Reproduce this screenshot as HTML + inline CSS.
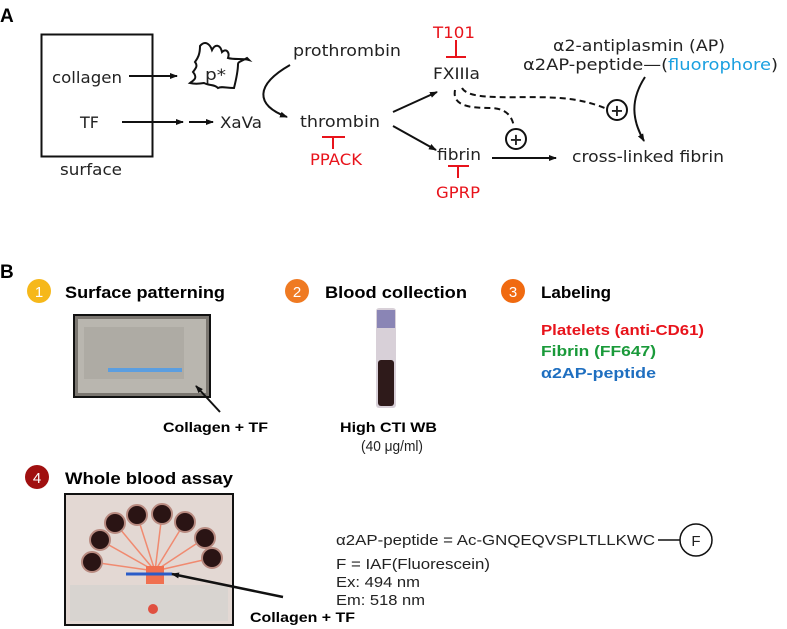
<!DOCTYPE html>
<html><head><meta charset="utf-8"><style>
html,body{margin:0;padding:0;background:#fff;}
svg{display:block;}
.c{font-family:"DejaVu Sans","Liberation Sans",sans-serif;font-size:16px;fill:#222;}
.r{fill:#e8131b;}
.h{font-family:"Liberation Sans",sans-serif;font-weight:bold;}
.a{font-family:"Liberation Sans",sans-serif;font-size:15px;fill:#222;}
</style></head><body>
<svg width="787" height="629" viewBox="0 0 787 629" xmlns="http://www.w3.org/2000/svg">
<defs>
<marker id="ar" markerWidth="8" markerHeight="8" refX="7" refY="4" orient="auto" markerUnits="userSpaceOnUse"><path d="M0,1 L8,4 L0,7 z" fill="#111"/></marker>
</defs>
<!-- A -->
<text x="0" y="22" class="h" font-size="19" fill="#000">A</text>
<rect x="41.5" y="34.5" width="111" height="122" fill="none" stroke="#111" stroke-width="2"/>
<text x="52" y="83" class="c" textLength="70" lengthAdjust="spacingAndGlyphs">collagen</text>
<text x="80" y="128" class="c" textLength="19" lengthAdjust="spacingAndGlyphs">TF</text>
<text x="60" y="175" class="c" textLength="62" lengthAdjust="spacingAndGlyphs">surface</text>
<line x1="129" y1="76" x2="177" y2="76" stroke="#111" stroke-width="2" marker-end="url(#ar)"/>
<line x1="122" y1="122" x2="183" y2="122" stroke="#111" stroke-width="2" marker-end="url(#ar)"/>
<line x1="189" y1="122" x2="213" y2="122" stroke="#111" stroke-width="2" marker-end="url(#ar)"/>
<text x="220" y="128" class="c" textLength="42" lengthAdjust="spacingAndGlyphs">XaVa</text>
<path d="M200,46 C205,40 210,44 212,50 C215,44 220,44 222,52 C226,48 230,52 228,58 C235,60 242,58 249,60 L247,58 C240,62 238,62 238,64 C238,72 236,80 234,88 C226,88 222,86 218,88 C214,84 210,86 204,83 C198,84 194,84 190,83 C194,80 198,78 193,72 C196,68 198,66 195,62 C198,58 200,54 200,46 z" fill="none" stroke="#111" stroke-width="2"/>
<text x="205" y="80" class="c" textLength="21" lengthAdjust="spacingAndGlyphs">p*</text>
<text x="293" y="56" class="c" textLength="108" lengthAdjust="spacingAndGlyphs">prothrombin</text>
<path d="M290,65 C255,85 255,105 287,117" fill="none" stroke="#111" stroke-width="2" marker-end="url(#ar)"/>
<text x="300" y="127" class="c" textLength="80" lengthAdjust="spacingAndGlyphs">thrombin</text>
<g stroke="#e8131b" stroke-width="2"><line x1="322" y1="137" x2="345" y2="137"/><line x1="333" y1="137" x2="333" y2="149"/></g>
<text x="310" y="165" class="c r" textLength="52" lengthAdjust="spacingAndGlyphs">PPACK</text>
<line x1="393" y1="112" x2="437" y2="92" stroke="#111" stroke-width="2" marker-end="url(#ar)"/>
<line x1="393" y1="126" x2="436" y2="150" stroke="#111" stroke-width="2" marker-end="url(#ar)"/>
<text x="433" y="38" class="c r" textLength="42" lengthAdjust="spacingAndGlyphs">T101</text>
<g stroke="#e8131b" stroke-width="2"><line x1="456" y1="40" x2="456" y2="57"/><line x1="446" y1="57" x2="466" y2="57"/></g>
<text x="433" y="79" class="c" textLength="47" lengthAdjust="spacingAndGlyphs">FXIIIa</text>
<text x="437" y="160" class="c" textLength="44" lengthAdjust="spacingAndGlyphs">fibrin</text>
<g stroke="#e8131b" stroke-width="2"><line x1="448" y1="166" x2="469" y2="166"/><line x1="458" y1="166" x2="458" y2="178"/></g>
<text x="436" y="198" class="c r" textLength="44" lengthAdjust="spacingAndGlyphs">GPRP</text>
<line x1="492" y1="158" x2="556" y2="158" stroke="#111" stroke-width="2" marker-end="url(#ar)"/>
<text x="572" y="162" class="c" textLength="152" lengthAdjust="spacingAndGlyphs">cross-linked fibrin</text>
<text x="553" y="51" class="c" textLength="172" lengthAdjust="spacingAndGlyphs">α2-antiplasmin (AP)</text>
<text x="523" y="70" class="c" textLength="255" lengthAdjust="spacingAndGlyphs">α2AP-peptide—(<tspan fill="#1aa0e0">fluorophore</tspan>)</text>
<path d="M645,77 C630,100 632,120 644,141" fill="none" stroke="#111" stroke-width="2" marker-end="url(#ar)"/>
<path d="M462,88 C470,102 520,95 560,98 C585,100 600,106 607,109" fill="none" stroke="#111" stroke-width="2" stroke-dasharray="6,4"/>
<circle cx="617" cy="110" r="10" fill="#fff" stroke="#111" stroke-width="2"/>
<text x="617" y="116" class="c" text-anchor="middle" font-size="17" font-weight="bold">+</text>
<path d="M455,90 C452,106 470,108 490,108 C505,108 512,115 514,127" fill="none" stroke="#111" stroke-width="2" stroke-dasharray="6,4"/>
<circle cx="516" cy="139" r="10" fill="#fff" stroke="#111" stroke-width="2"/>
<text x="516" y="145" class="c" text-anchor="middle" font-size="17" font-weight="bold">+</text>
<!-- B -->
<text x="0" y="278" class="h" font-size="19" fill="#000">B</text>
<circle cx="39" cy="291" r="12" fill="#f6b81a"/><text x="39" y="297" class="a" text-anchor="middle" style="fill:#fff" font-size="16">1</text>
<text x="65" y="298" class="h" font-size="17" textLength="160" lengthAdjust="spacingAndGlyphs">Surface patterning</text>
<circle cx="297" cy="291" r="12" fill="#ef7a22"/><text x="297" y="297" class="a" text-anchor="middle" style="fill:#fff" font-size="16">2</text>
<text x="325" y="298" class="h" font-size="17" textLength="142" lengthAdjust="spacingAndGlyphs">Blood collection</text>
<circle cx="513" cy="291" r="12" fill="#f06a10"/><text x="513" y="297" class="a" text-anchor="middle" style="fill:#fff" font-size="16">3</text>
<text x="541" y="298" class="h" font-size="17" textLength="70" lengthAdjust="spacingAndGlyphs">Labeling</text>
<text x="541" y="335" class="h" font-size="15" fill="#e8131b" textLength="163" lengthAdjust="spacingAndGlyphs">Platelets (anti-CD61)</text>
<text x="541" y="356" class="h" font-size="15" fill="#1a9a3a" textLength="115" lengthAdjust="spacingAndGlyphs">Fibrin (FF647)</text>
<text x="541" y="378" class="h" font-size="15" fill="#1f6fc0" textLength="115" lengthAdjust="spacingAndGlyphs">α2AP-peptide</text>
<!-- photo 1 -->
<rect x="74" y="315" width="136" height="82" fill="#7a7670" stroke="#111" stroke-width="2"/>
<rect x="78" y="319" width="128" height="74" fill="#b9b6af"/>
<rect x="84" y="327" width="100" height="52" fill="#aeaba4"/>
<line x1="108" y1="370" x2="182" y2="370" stroke="#5b9ee0" stroke-width="4"/>
<line x1="220" y1="412" x2="196" y2="386" stroke="#111" stroke-width="2" marker-end="url(#ar)"/>
<text x="163" y="432" class="h" font-size="14" textLength="105" lengthAdjust="spacingAndGlyphs">Collagen + TF</text>
<!-- tube -->
<rect x="376" y="308" width="20" height="100" fill="#d8d0d8" rx="3"/>
<rect x="377" y="310" width="18" height="18" fill="#8a85b5"/>
<rect x="378" y="360" width="16" height="46" fill="#2e1a1a" rx="3"/>
<text x="340" y="432" class="h" font-size="14" textLength="97" lengthAdjust="spacingAndGlyphs">High CTI WB</text>
<text x="361" y="451" class="a" font-size="12" textLength="62" lengthAdjust="spacingAndGlyphs">(40 μg/ml)</text>
<!-- 4 -->
<circle cx="37" cy="477" r="12" fill="#a01010"/><text x="37" y="483" class="a" text-anchor="middle" style="fill:#fff" font-size="16">4</text>
<text x="65" y="484" class="h" font-size="17" textLength="168" lengthAdjust="spacingAndGlyphs">Whole blood assay</text>
<rect x="65" y="494" width="168" height="131" fill="#e3d8d3" stroke="#111" stroke-width="2"/>
<rect x="70" y="585" width="158" height="36" fill="#d8d4d0"/>
<g stroke="#f08a70" stroke-width="1.5">
<line x1="155" y1="571" x2="92" y2="562"/><line x1="155" y1="571" x2="100" y2="540"/><line x1="155" y1="571" x2="115" y2="523"/><line x1="155" y1="571" x2="137" y2="515"/><line x1="155" y1="571" x2="162" y2="514"/><line x1="155" y1="571" x2="185" y2="522"/><line x1="155" y1="571" x2="205" y2="538"/><line x1="155" y1="571" x2="212" y2="558"/>
</g>
<g fill="#2a1414" stroke="#b88a80" stroke-width="2">
<circle cx="92" cy="562" r="10"/><circle cx="100" cy="540" r="10"/><circle cx="115" cy="523" r="10"/><circle cx="137" cy="515" r="10"/><circle cx="162" cy="514" r="10"/><circle cx="185" cy="522" r="10"/><circle cx="205" cy="538" r="10"/><circle cx="212" cy="558" r="10"/>
</g>
<rect x="146" y="566" width="18" height="18" fill="#f07050"/>
<circle cx="153" cy="609" r="5" fill="#e05040"/>
<line x1="126" y1="574" x2="172" y2="574" stroke="#2a5cc8" stroke-width="3"/>
<line x1="283" y1="597" x2="172" y2="574" stroke="#111" stroke-width="2.5" marker-end="url(#ar)"/>
<text x="250" y="622" class="h" font-size="14" textLength="105" lengthAdjust="spacingAndGlyphs">Collagen + TF</text>
<text x="336" y="545" class="a" textLength="319" lengthAdjust="spacingAndGlyphs">α2AP-peptide = Ac-GNQEQVSPLTLLKWC</text>
<line x1="658" y1="540" x2="680" y2="540" stroke="#111" stroke-width="1.5"/>
<circle cx="696" cy="540" r="16" fill="#fff" stroke="#111" stroke-width="1.5"/>
<text x="696" y="546" class="a" text-anchor="middle">F</text>
<text x="336" y="569" class="a" textLength="154" lengthAdjust="spacingAndGlyphs">F = IAF(Fluorescein)</text>
<text x="336" y="587" class="a" textLength="84" lengthAdjust="spacingAndGlyphs">Ex: 494 nm</text>
<text x="336" y="605" class="a" textLength="89" lengthAdjust="spacingAndGlyphs">Em: 518 nm</text>
</svg>
</body></html>
